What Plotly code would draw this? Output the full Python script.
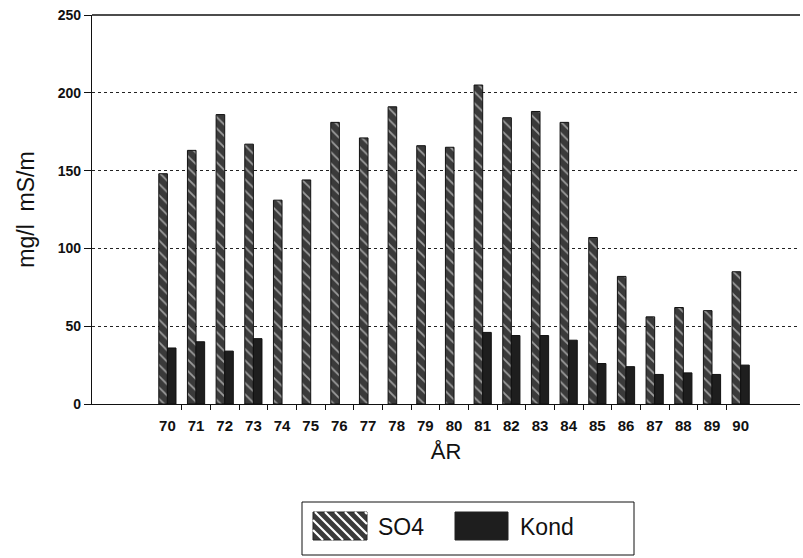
import plotly.graph_objects as go

years = list(range(70, 91))
year_labels = [str(y) for y in years]
so4 = [148, 163, 186, 167, 131, 144, 181, 171, 191, 166, 165, 205, 184, 188, 181, 107, 82, 56, 62, 60, 85]
kond = [36, 40, 34, 42, None, None, None, None, None, None, None, 46, 44, 44, 41, 26, 24, 19, 20, 19, 25]
y_ticks = [0, 50, 100, 150, 200, 250]

FONT = "Liberation Sans, Arial, Helvetica, sans-serif"
W, H = 803, 558
L, R, T, B = 92, 3, 15, 154
PW, PH = W - L - R, H - T - B


def px(x):
    return (x - L) / PW


def py(y):
    return (H - B - y) / PH


fig = go.Figure()
fig.add_trace(go.Bar(
    x=years, y=so4, name="SO4", showlegend=False,
    marker=dict(color="#3a3a3a", line=dict(color="#111", width=1),
                pattern=dict(shape="\\", fgcolor="white", fillmode="overlay",
                             size=8, solidity=0.22)),
))
fig.add_trace(go.Bar(
    x=years, y=kond, name="Kond", showlegend=False,
    marker=dict(color="#1e1e1e", line=dict(color="#111", width=1)),
))

shapes = []
# top border line (at the 250 level = top of plot area)
shapes.append(dict(type="line", xref="paper", yref="paper", x0=0, x1=1, y0=1, y1=1,
                   line=dict(color="#111", width=1.3)))

# custom legend
shapes.append(dict(type="rect", xref="paper", yref="paper",
                   x0=px(302), x1=px(634), y0=py(502), y1=py(555),
                   line=dict(color="#111", width=1), fillcolor="white"))
sx0, sx1, sy0, sy1 = 313, 367, 512, 540
shapes.append(dict(type="rect", xref="paper", yref="paper",
                   x0=px(sx0), x1=px(sx1), y0=py(sy0), y1=py(sy1),
                   line=dict(color="#222", width=1), fillcolor="#3a3a3a"))
# hatch lines "\" inside swatch
c = sx0 - (sy1 - sy0)
while c < sx1:
    xa, ya = c, sy0
    xb, yb = c + (sy1 - sy0), sy1
    if xa < sx0:
        ya = sy0 + (sx0 - c)
        xa = sx0
    if xb > sx1:
        yb = sy0 + (sx1 - c)
        xb = sx1
    if xb > xa:
        shapes.append(dict(type="line", xref="paper", yref="paper",
                           x0=px(xa), y0=py(ya), x1=px(xb), y1=py(yb),
                           line=dict(color="white", width=2.2)))
    c += 10
kx0, kx1 = 455, 508
shapes.append(dict(type="rect", xref="paper", yref="paper",
                   x0=px(kx0), x1=px(kx1), y0=py(sy0), y1=py(sy1),
                   line=dict(color="#222", width=1), fillcolor="#1e1e1e"))

annotations = [
    dict(text="SO4", xref="paper", yref="paper", x=px(376), y=py(527),
         xanchor="left", yanchor="middle", showarrow=False,
         font=dict(family=FONT, size=23, color="#111")),
    dict(text="Kond", xref="paper", yref="paper", x=px(518), y=py(527),
         xanchor="left", yanchor="middle", showarrow=False,
         font=dict(family=FONT, size=23, color="#111")),
]

fig.update_layout(
    width=W, height=H,
    margin=dict(l=L, r=R, t=T, b=B, pad=0),
    paper_bgcolor="white", plot_bgcolor="white",
    barmode="group", bargap=0.4, bargroupgap=0,
    font=dict(family=FONT, color="#111"),
    shapes=shapes, annotations=annotations,
    xaxis=dict(
        range=[67.37, 92.07],
        tickmode="array", tickvals=years, ticktext=year_labels,
        ticks="", showgrid=False, zeroline=False,
        showline=True, linecolor="#111", linewidth=1.2,
        tickfont=dict(family=FONT, size=15, weight="bold", color="#111"),
        ticklabelstandoff=8,
        minor=dict(tickmode="array", tickvals=[y + 0.5 for y in years[:-1]],
                   ticks="outside", ticklen=5, tickcolor="#111", tickwidth=1,
                   showgrid=False),
        title=dict(text="ÅR", font=dict(family=FONT, size=22, color="#111"), standoff=10),
    ),
    yaxis=dict(
        range=[0, 250], tickmode="array", tickvals=y_ticks,
        ticks="outside", ticklen=7, tickcolor="#111",
        showgrid=True, gridcolor="#222", griddash="dot", gridwidth=1,
        zeroline=False, showline=True, linecolor="#111", linewidth=1.2,
        tickfont=dict(family=FONT, size=14, weight="bold", color="#111"),
        title=dict(text="mg/l  mS/m", font=dict(family=FONT, size=23, color="#111"), standoff=16),
    ),
)

fig.write_html("out.html", config={"displayModeBar": False},
               post_script="document.body.style.margin='0';document.body.style.padding='0';")
